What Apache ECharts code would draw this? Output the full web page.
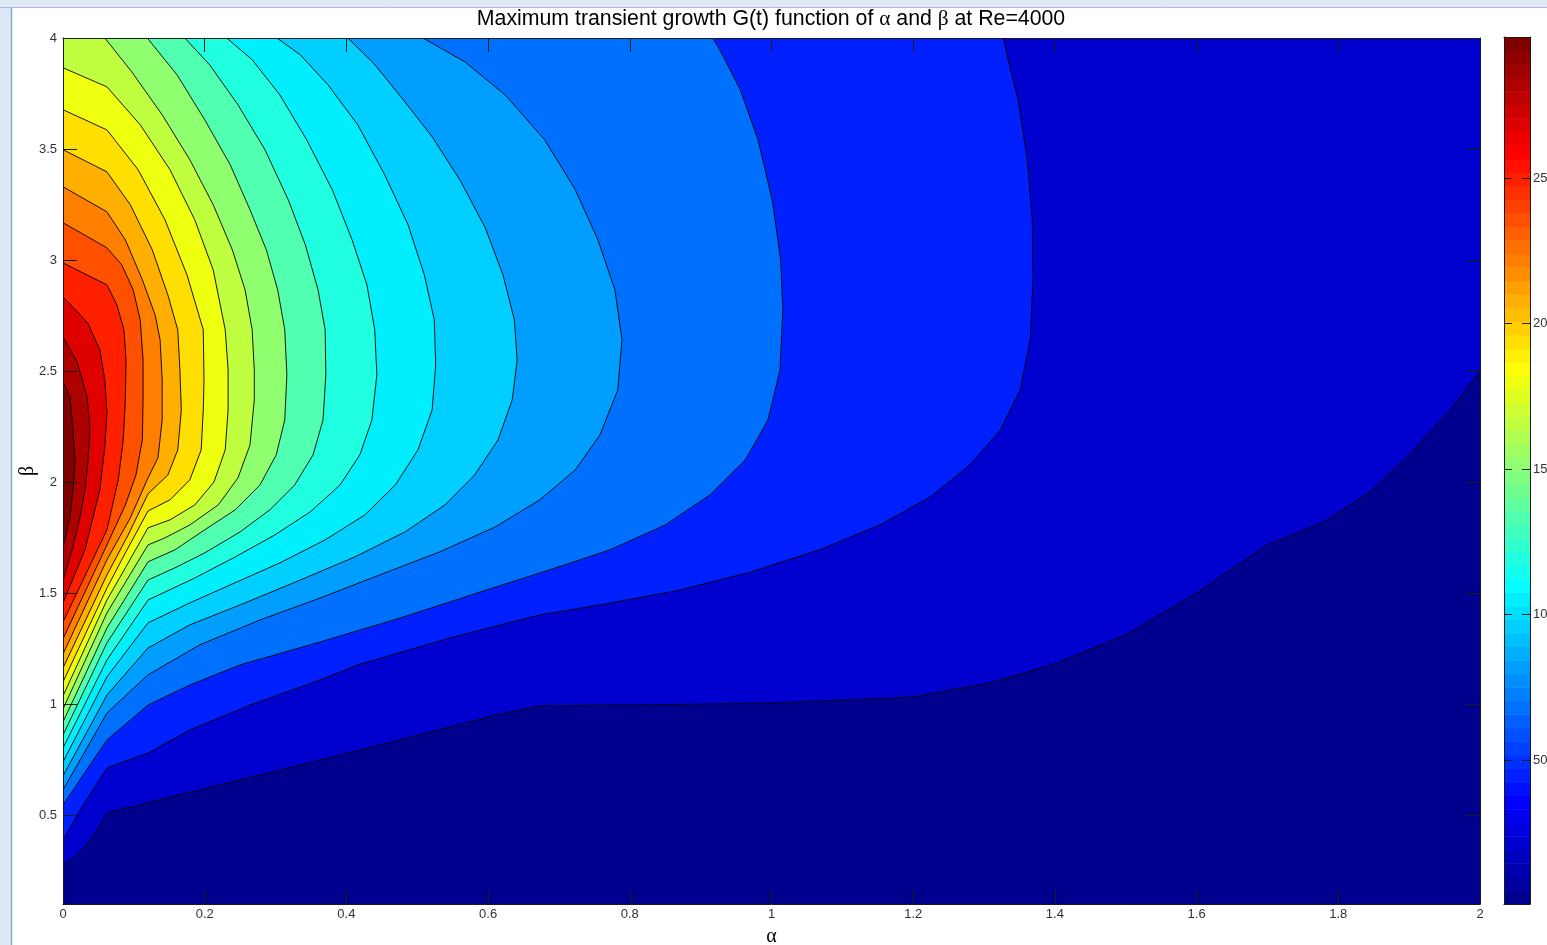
<!DOCTYPE html>
<html>
<head>
<meta charset="utf-8">
<script src="https://cdn.jsdelivr.net/npm/echarts@6/dist/echarts.min.js"></script>
<style>
  html, body { margin: 0; padding: 0; background: #ffffff; overflow: hidden; }
  #chart { width: 1547px; height: 945px; }
</style>
</head>
<body>
<div id="chart"></div>
<script>
// ---------------- data ----------------
const alphaRange = [0, 2];
const betaRange = [0.1, 4];
const betaTicks = [0.5, 1, 1.5, 2, 2.5, 3, 3.5, 4];
const colorbarTicks = [5, 10, 15, 20, 25];
const colorbarLabels = ['50', '10', '15', '20', '25'];
const gRange = [0.05, 29.85];

// contour levels of G, lowest first (each filled band takes the colour of its lower level)
const levels = [2.15, 4.47, 6.8, 8.2, 9.5, 10.39, 11.87, 13.35, 15.18, 16.7,
                17.79, 19.27, 20.75, 22.23, 23.71, 25.19, 26.67, 28.15, 29.62];

// iso-lines [alpha, beta], one per level; the higher side lies to the left of travel
const iso01 = [[0,0.276],[0.017,0.312],[0.035,0.375],[0.049,0.433],[0.058,0.492],[0.062,0.51],[0.342,0.731],[0.476,0.839],[0.61,0.951],[0.673,0.992],[0.786,0.996],[0.899,1.0],[0.998,1.005],[1.111,1.019],[1.2,1.032],[1.308,1.095],[1.4,1.181],[1.5,1.312],[1.6,1.5],[1.7,1.717],[1.78,1.821],[1.845,1.956],[1.9,2.123],[1.958,2.325],[2,2.5]];
const iso02 = [[0,0.388],[0.024,0.523],[0.062,0.713],[0.12,0.78],[0.179,0.884],[0.264,0.996],[0.363,1.109],[0.416,1.177],[0.546,1.298],[0.673,1.402],[0.758,1.447],[0.871,1.514],[0.97,1.595],[1.068,1.695],[1.153,1.807],[1.224,1.933],[1.28,2.077],[1.323,2.235],[1.351,2.415],[1.365,2.641],[1.369,2.911],[1.368,3.181],[1.361,3.451],[1.348,3.722],[1.334,3.902],[1.327,4]];
const iso03 = [[0,0.546],[0.062,0.839],[0.12,0.996],[0.179,1.086],[0.25,1.177],[0.363,1.28],[0.476,1.388],[0.589,1.505],[0.687,1.605],[0.772,1.695],[0.85,1.807],[0.913,1.942],[0.963,2.1],[0.995,2.28],[1.012,2.505],[1.016,2.776],[1.013,3.0],[1.001,3.271],[0.981,3.541],[0.956,3.767],[0.927,3.947],[0.917,4]];
const iso04 = [[0,0.614],[0.062,0.96],[0.12,1.132],[0.193,1.267],[0.278,1.379],[0.363,1.478],[0.447,1.582],[0.532,1.686],[0.61,1.798],[0.673,1.92],[0.723,2.055],[0.758,2.213],[0.783,2.415],[0.789,2.641],[0.779,2.866],[0.755,3.091],[0.723,3.317],[0.68,3.541],[0.624,3.744],[0.567,3.893],[0.508,4]];
const iso05 = [[0,0.677],[0.062,1.041],[0.12,1.253],[0.179,1.357],[0.25,1.447],[0.335,1.559],[0.412,1.663],[0.483,1.776],[0.539,1.897],[0.581,2.032],[0.614,2.19],[0.634,2.37],[0.641,2.55],[0.637,2.731],[0.621,2.933],[0.596,3.145],[0.56,3.362],[0.521,3.555],[0.478,3.731],[0.439,3.884],[0.402,4]];
const iso06 = [[0,0.74],[0.062,1.123],[0.12,1.366],[0.179,1.456],[0.236,1.537],[0.306,1.636],[0.37,1.74],[0.426,1.852],[0.469,1.987],[0.501,2.145],[0.521,2.325],[0.526,2.528],[0.524,2.731],[0.51,2.933],[0.487,3.159],[0.454,3.384],[0.416,3.609],[0.374,3.789],[0.335,3.924],[0.302,4]];
const iso07 = [[0,0.803],[0.062,1.199],[0.12,1.469],[0.186,1.568],[0.243,1.663],[0.299,1.762],[0.349,1.866],[0.391,1.987],[0.419,2.123],[0.436,2.28],[0.443,2.483],[0.44,2.686],[0.429,2.888],[0.408,3.091],[0.38,3.317],[0.344,3.541],[0.306,3.744],[0.267,3.902],[0.231,4]];
const iso08 = [[0,0.861],[0.062,1.276],[0.12,1.559],[0.158,1.614],[0.2,1.681],[0.25,1.776],[0.292,1.875],[0.327,1.987],[0.353,2.123],[0.367,2.28],[0.371,2.483],[0.37,2.686],[0.36,2.866],[0.342,3.069],[0.318,3.271],[0.285,3.497],[0.247,3.699],[0.207,3.879],[0.172,4]];
const iso09 = [[0,0.92],[0.062,1.343],[0.12,1.641],[0.158,1.695],[0.2,1.785],[0.243,1.875],[0.278,1.987],[0.301,2.123],[0.313,2.28],[0.316,2.483],[0.313,2.686],[0.303,2.866],[0.287,3.046],[0.264,3.226],[0.236,3.429],[0.2,3.632],[0.161,3.834],[0.119,4]];
const iso10 = [[0,0.978],[0.062,1.411],[0.12,1.717],[0.144,1.749],[0.179,1.807],[0.219,1.897],[0.247,2.019],[0.264,2.168],[0.27,2.37],[0.27,2.505],[0.267,2.686],[0.257,2.866],[0.239,3.046],[0.212,3.249],[0.179,3.452],[0.14,3.654],[0.097,3.848],[0.059,4]];
const iso11 = [[0,1.037],[0.062,1.469],[0.088,1.614],[0.12,1.794],[0.151,1.83],[0.186,1.897],[0.213,2.0],[0.229,2.145],[0.233,2.325],[0.233,2.505],[0.229,2.686],[0.212,2.956],[0.186,3.181],[0.151,3.407],[0.109,3.609],[0.062,3.78],[0,3.866]];
const iso12 = [[0,1.1],[0.062,1.523],[0.088,1.681],[0.12,1.87],[0.151,1.92],[0.179,2.01],[0.195,2.145],[0.198,2.325],[0.199,2.46],[0.198,2.686],[0.175,2.933],[0.144,3.181],[0.106,3.407],[0.062,3.586],[0,3.677]];
const iso13 = [[0,1.163],[0.062,1.582],[0.092,1.762],[0.12,1.947],[0.148,2.032],[0.162,2.145],[0.167,2.325],[0.165,2.505],[0.162,2.686],[0.148,2.843],[0.126,3.046],[0.095,3.249],[0.062,3.397],[0,3.497]];
const iso14 = [[0,1.226],[0.062,1.65],[0.095,1.839],[0.12,2.019],[0.134,2.109],[0.14,2.28],[0.14,2.46],[0.137,2.641],[0.13,2.753],[0.112,2.911],[0.088,3.091],[0.062,3.217],[0,3.33]];
const iso15 = [[0,1.294],[0.062,1.717],[0.088,1.897],[0.103,2.032],[0.112,2.19],[0.113,2.37],[0.113,2.55],[0.109,2.731],[0.099,2.866],[0.083,2.978],[0.062,3.055],[0,3.168]];
const iso16 = [[0,1.37],[0.062,1.785],[0.078,2.01],[0.085,2.19],[0.088,2.37],[0.089,2.55],[0.086,2.686],[0.076,2.798],[0.062,2.888],[0,2.987]];
const iso17 = [[0,1.456],[0.031,1.695],[0.052,1.965],[0.059,2.159],[0.062,2.312],[0.059,2.46],[0.052,2.595],[0.035,2.717],[0,2.834]];
const iso18 = [[0,1.559],[0.013,1.695],[0.024,1.843],[0.031,1.965],[0.035,2.086],[0.038,2.235],[0.034,2.384],[0.02,2.541],[0,2.654]];
const iso19 = [[0,1.708],[0.01,1.843],[0.014,1.965],[0.017,2.086],[0.014,2.235],[0.01,2.384],[0,2.451]];

const isolines = [iso01, iso02, iso03, iso04, iso05, iso06, iso07, iso08, iso09, iso10,
                  iso11, iso12, iso13, iso14, iso15, iso16, iso17, iso18, iso19];

// ---------------- colour map (MATLAB-style jet, 64 entries) ----------------
function jet64(i) {
  const r = i <= 24 ? 0 : i <= 40 ? (i - 24) / 16 : i <= 56 ? 1 : (72 - i) / 16;
  const g = i <= 8 ? 0 : i <= 24 ? (i - 8) / 16 : i <= 40 ? 1 : i <= 55 ? (56 - i) / 16 : 0;
  const b = i <= 8 ? (i + 8) / 16 : i <= 24 ? 1 : i <= 39 ? (40 - i) / 16 : 0;
  return 'rgb(' + Math.round(r * 255) + ',' + Math.round(g * 255) + ',' + Math.round(b * 255) + ')';
}
function colorOf(v) {
  const t = (v - gRange[0]) / (gRange[1] - gRange[0]);
  const i = Math.min(64, Math.max(1, Math.floor(t * 64 + 1e-9) + 1));
  return jet64(i);
}
const lowerBounds = [gRange[0]].concat(levels);
const bandColors = lowerBounds.map(colorOf);

// ---------------- filled regions: iso-line closed along the frame (counter-clockwise) ----------------
const W = alphaRange[1] - alphaRange[0];
const H = betaRange[1] - betaRange[0];
const PERIM = 2 * (W + H);
const frameCorners = [
  { s: 0, p: [alphaRange[0], betaRange[0]] },
  { s: W, p: [alphaRange[1], betaRange[0]] },
  { s: W + H, p: [alphaRange[1], betaRange[1]] },
  { s: 2 * W + H, p: [alphaRange[0], betaRange[1]] }
];
function perimPos(p) {
  const eps = 1e-6;
  if (Math.abs(p[1] - betaRange[0]) < eps) return p[0] - alphaRange[0];
  if (Math.abs(p[0] - alphaRange[1]) < eps) return W + (p[1] - betaRange[0]);
  if (Math.abs(p[1] - betaRange[1]) < eps) return W + H + (alphaRange[1] - p[0]);
  return 2 * W + H + (betaRange[1] - p[1]);
}
function superLevelRing(line) {
  const ring = line.slice();
  const s0 = perimPos(line[line.length - 1]);
  let s1 = perimPos(line[0]);
  if (s1 <= s0) s1 += PERIM;
  const extra = [];
  frameCorners.forEach(c => {
    [c.s, c.s + PERIM].forEach(s => { if (s > s0 && s < s1) extra.push({ s: s, p: c.p }); });
  });
  extra.sort((a, b) => a.s - b.s).forEach(e => ring.push(e.p));
  return ring;
}

function renderBand(params, api) {
  const k = api.value(2);
  const ring = k === 0 ? frameCorners.map(c => c.p) : superLevelRing(isolines[k - 1]);
  return {
    type: 'polygon',
    shape: { points: ring.map(p => api.coord(p)) },
    style: { fill: bandColors[k], stroke: bandColors[k], lineWidth: 0.6 }
  };
}
function renderIsoline(params, api) {
  const k = api.value(2);
  return {
    type: 'polyline',
    shape: { points: isolines[k].map(p => api.coord(p)) },
    style: { stroke: '#000000', lineWidth: 0.9, fill: null }
  };
}
function renderColorbar(params, api) {
  const i = api.value(2);
  const step = (gRange[1] - gRange[0]) / 64;
  const lo = api.coord([0, gRange[0] + i * step]);
  const hi = api.coord([1, gRange[0] + (i + 1) * step]);
  return {
    type: 'rect',
    shape: { x: lo[0], y: hi[1], width: hi[0] - lo[0], height: lo[1] - hi[1] + 0.5 },
    style: { fill: jet64(i + 1) }
  };
}

const bandData = bandColors.map((c, k) => [1, 2, k]);
const lineData = isolines.map((l, k) => [1, 2, k]);
const cbData = [];
for (let i = 0; i < 64; i++) cbData.push([0.5, gRange[0] + (i + 0.5) * (gRange[1] - gRange[0]) / 64, i]);

// ---------------- chart ----------------
const FRAME = '#1a1a1a';
const LABEL = '#333333';
const SANS = '"Liberation Sans", Arial, sans-serif';
const SERIF = '"Liberation Serif", "DejaVu Serif", serif';

const chart = echarts.init(document.getElementById('chart'), null, { renderer: 'canvas' });

const plotXAxis = (pos, showLabels) => ({
  gridIndex: 0, type: 'value', position: pos,
  min: alphaRange[0], max: alphaRange[1], interval: 0.2,
  axisLine: { show: true, onZero: false, lineStyle: { color: FRAME, width: 1 } },
  axisTick: { show: true, inside: true, length: 14, lineStyle: { color: FRAME, width: 1 } },
  axisLabel: { show: showLabels, color: LABEL, fontSize: 13, fontFamily: SANS, margin: 4 },
  splitLine: { show: false },
  z: 10
});
const plotYAxis = (pos, showLabels) => ({
  gridIndex: 0, type: 'value', position: pos,
  min: betaRange[0], max: betaRange[1],
  axisLine: { show: true, onZero: false, lineStyle: { color: FRAME, width: 1 } },
  axisTick: { show: true, inside: true, length: 14, customValues: betaTicks, lineStyle: { color: FRAME, width: 1 } },
  axisLabel: { show: showLabels, color: LABEL, fontSize: 13, fontFamily: SANS, margin: 6, customValues: betaTicks },
  splitLine: { show: false },
  z: 10
});
const cbXAxis = (pos) => ({
  gridIndex: 1, type: 'value', position: pos, min: 0, max: 1,
  axisLine: { show: true, onZero: false, lineStyle: { color: FRAME, width: 1 } },
  axisTick: { show: false }, axisLabel: { show: false }, splitLine: { show: false }, z: 10
});
const cbYAxis = (pos, showLabels) => ({
  gridIndex: 1, type: 'value', position: pos, min: gRange[0], max: gRange[1],
  axisLine: { show: true, onZero: false, lineStyle: { color: FRAME, width: 1 } },
  axisTick: { show: true, inside: true, length: 8, customValues: colorbarTicks, lineStyle: { color: FRAME, width: 1 } },
  axisLabel: {
    show: showLabels, color: LABEL, fontSize: 13, fontFamily: SANS, margin: 3,
    customValues: colorbarTicks,
    formatter: v => {
      const i = colorbarTicks.findIndex(t => Math.abs(t - v) < 1e-6);
      return i >= 0 ? colorbarLabels[i] : '';
    }
  },
  splitLine: { show: false }, z: 10
});

const xMain = plotXAxis('bottom', true);
xMain.name = 'α';
xMain.nameLocation = 'middle';
xMain.nameGap = 23;
xMain.nameMoveOverlap = false;
xMain.nameTextStyle = { fontFamily: SERIF, fontSize: 20, color: '#000' };
const yMain = plotYAxis('left', true);
yMain.name = 'β';
yMain.nameLocation = 'middle';
yMain.nameGap = 25;
yMain.nameRotate = 90;
yMain.nameMoveOverlap = false;
yMain.nameTextStyle = { fontFamily: SERIF, fontSize: 20, color: '#000' };

chart.setOption({
  animation: false,
  backgroundColor: '#ffffff',
  grid: [
    { left: 63, right: 67, top: 38, bottom: 41, containLabel: false, outerBoundsMode: 'none' },
    { left: 1504, width: 26, top: 37, bottom: 41, containLabel: false, outerBoundsMode: 'none' }
  ],
  xAxis: [xMain, plotXAxis('top', false), cbXAxis('bottom'), cbXAxis('top')],
  yAxis: [yMain, plotYAxis('right', false), cbYAxis('left', false), cbYAxis('right', true)],
  graphic: [
    { type: 'rect', shape: { x: 0, y: 0, width: 11, height: 945 }, style: { fill: '#dfe8f5' }, z: 100 },
    { type: 'line', shape: { x1: 11.5, y1: 0, x2: 11.5, y2: 945 }, style: { stroke: '#8aa8d2', lineWidth: 1.5 }, z: 100 },
    { type: 'rect', shape: { x: 0, y: 0, width: 1547, height: 7 }, style: { fill: '#dfe8f5' }, z: 100 },
    { type: 'line', shape: { x1: 0, y1: 7.5, x2: 1547, y2: 7.5 }, style: { stroke: '#a8bedc', lineWidth: 1 }, z: 100 },
    {
      type: 'text', x: 771, y: 19, z: 100,
      style: {
        text: 'Maximum transient growth G(t) function of {g|α} and {g|β} at Re=4000',
        font: '21.3px ' + SANS, fill: '#000',
        align: 'center', verticalAlign: 'middle',
        textAlign: 'center', textVerticalAlign: 'middle',
        rich: { g: { fontFamily: SERIF, fontSize: 21.3, fill: '#000', color: '#000' } }
      }
    }
  ],
  series: [
    {
      type: 'custom', name: 'bands', coordinateSystem: 'cartesian2d',
      xAxisIndex: 0, yAxisIndex: 0, clip: true, silent: true,
      renderItem: renderBand, data: bandData, encode: { x: 0, y: 1 }, z: 2
    },
    {
      type: 'custom', name: 'isolines', coordinateSystem: 'cartesian2d',
      xAxisIndex: 0, yAxisIndex: 0, clip: true, silent: true,
      renderItem: renderIsoline, data: lineData, encode: { x: 0, y: 1 }, z: 3
    },
    {
      type: 'custom', name: 'colorbar', coordinateSystem: 'cartesian2d',
      xAxisIndex: 2, yAxisIndex: 2, clip: true, silent: true,
      renderItem: renderColorbar, data: cbData, encode: { x: 0, y: 1 }, z: 2
    }
  ]
});
</script>
</body>
</html>
